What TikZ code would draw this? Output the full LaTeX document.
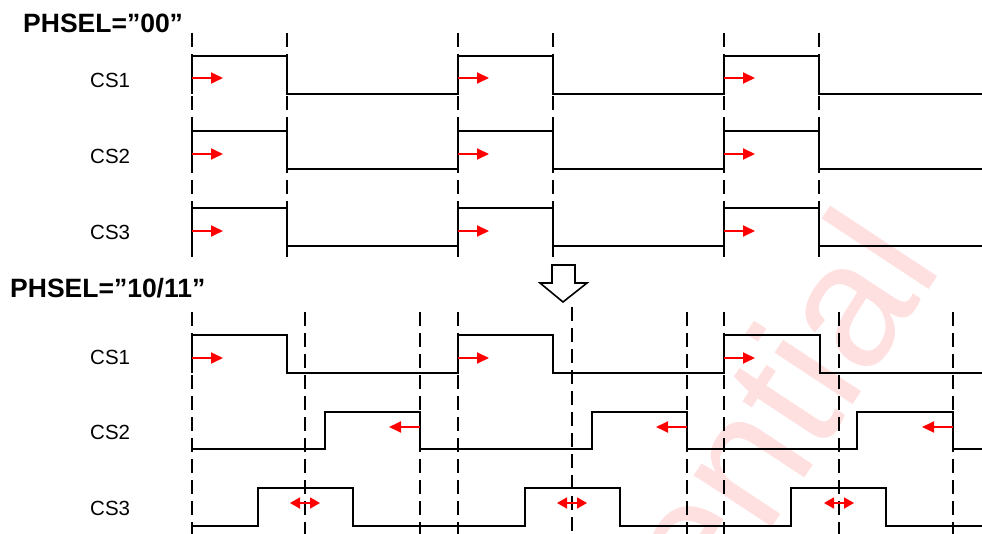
\documentclass[tikz,border=0pt]{standalone}
\usepackage{fontspec}
\setmainfont{Liberation Sans}
\usetikzlibrary{arrows.meta}
\begin{document}
\begin{tikzpicture}[x=1pt,y=-1pt,
  wave/.style={line width=2.2pt, line join=miter},
  grid/.style={line width=2pt, dash pattern=on 14pt off 7pt},
  rarrow/.style={red, line width=1.8pt, -{Triangle[length=12pt,width=11pt]}},
  darrow/.style={red, line width=1.8pt, {Triangle[length=10pt,width=11pt]}-{Triangle[length=10pt,width=11pt]}},
  lbl/.style={anchor=base west, inner sep=0pt, font=\fontsize{20.5}{24}\selectfont},
  ttl/.style={anchor=base west, inner sep=0pt, font=\fontsize{26.5}{30}\selectfont\bfseries},
  hollow/.style={line width=1.6pt, fill=white}]
\useasboundingbox (0,0) rectangle (982,534);
% watermark
\begin{scope}
\clip (0,0) rectangle (982,534);
\node[rotate=56.6, anchor=base east, inner sep=0pt, text=red!12, font=\fontsize{177}{200}\selectfont] (wm) at (944,266) {Confidential};
\end{scope}
% titles
\node[ttl] (t1) at (23,33) {PHSEL=”00”};
\node[ttl] (t2) at (10,298) {PHSEL=”10/11”};
% labels top
\node[lbl] (a1) at (90,87.3) {CS1};
\node[lbl] (a2) at (90,163.3) {CS2};
\node[lbl] (a3) at (90,240) {CS3};
% labels bottom
\node[lbl] (b1) at (90,364) {CS1};
\node[lbl] (b2) at (90,439) {CS2};
\node[lbl] (b3) at (90,515) {CS3};
% top dashed grid
\foreach \x in {192,287,458,553,724,819}
  \draw[grid] (\x,33) -- (\x,258);
% top waves
\foreach \hi/\lo in {56/94,131/169,208/246}
  \draw[wave] (192,\lo) -- (192,\hi) -- (287,\hi) -- (287,\lo) -- (458,\lo) -- (458,\hi) -- (553,\hi) -- (553,\lo) -- (724,\lo) -- (724,\hi) -- (819,\hi) -- (819,\lo) -- (982,\lo);
% top arrows
\foreach \y in {78,154,231}
  \foreach \x in {192,458,724}
    \draw[rarrow] (\x,\y) -- ++(31,0);
% hollow arrow
\draw[hollow] (552,265) -- (575,265) -- (575,283) -- (587,283) -- (563,302) -- (540,283) -- (552,283) -- cycle;
% bottom dashed grid
\foreach \x in {192,305,420,458,687,724,839,953}
  \draw[grid] (\x,312) -- (\x,540);
\draw[grid] (572,307) -- (572,540);
% bottom waves
\draw[wave] (192,373) -- (192,335) -- (287,335) -- (287,373) -- (458,373) -- (458,335) -- (553,335) -- (553,373) -- (724,373) -- (724,335) -- (820,335) -- (820,373) -- (982,373);
\draw[wave] (192,449) -- (325,449) -- (325,412) -- (420,412) -- (420,449) -- (592,449) -- (592,412) -- (687,412) -- (687,449) -- (857,449) -- (857,412) -- (953,412) -- (953,449) -- (982,449);
\draw[wave] (192,526) -- (258,526) -- (258,488) -- (353,488) -- (353,526) -- (525,526) -- (525,488) -- (620,488) -- (620,526) -- (791,526) -- (791,488) -- (886,488) -- (886,526) -- (982,526);
% bottom arrows
\foreach \x in {192,458,724}
  \draw[rarrow] (\x,358) -- ++(31,0);
\foreach \x in {420,687,953}
  \draw[rarrow] (\x,427) -- ++(-31,0);
\foreach \x in {305,572,839}
  \draw[darrow] (\x-15,503) -- (\x+15,503);
\end{tikzpicture}
\end{document}
